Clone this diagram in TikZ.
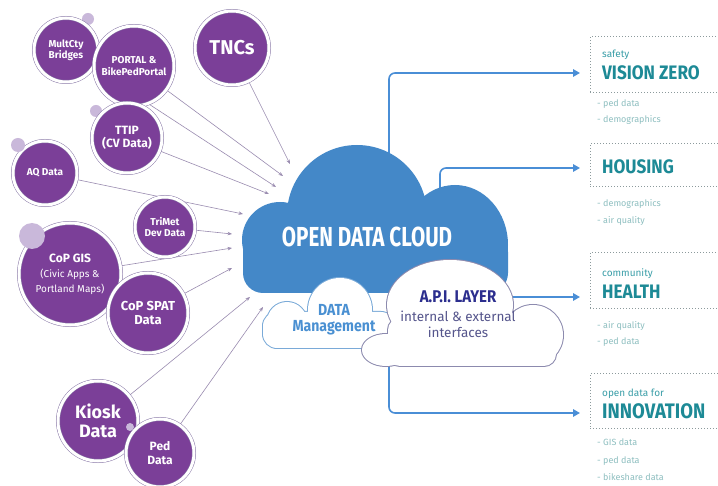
\documentclass[tikz,border=0pt]{standalone}
\usepackage{fontspec}
\setmainfont{Fira Sans}
\newfontfamily\cond[FakeStretch=0.75]{Fira Sans}
\newfontfamily\semicond[FakeStretch=0.88]{Fira Sans}
\usetikzlibrary{arrows.meta,backgrounds}
\definecolor{cpurple}{HTML}{7B3F98}
\definecolor{cring}{HTML}{8A7AA8}
\definecolor{cdot}{HTML}{C9B8DA}
\definecolor{carrow}{HTML}{9A8CB0}
\definecolor{cblue}{HTML}{4488C8}
\definecolor{cline}{HTML}{4A8ED6}
\definecolor{cteal}{HTML}{1D8A96}
\definecolor{cteal2}{HTML}{3A9EA8}
\definecolor{cbullet}{HTML}{8EBFC0}
\definecolor{cdots}{HTML}{8C9A9C}
\definecolor{capi}{HTML}{2C2E8E}
\definecolor{capitxt}{HTML}{55558C}
\definecolor{cdm}{HTML}{4A90D2}
\definecolor{cdmline}{HTML}{7AAAD8}
\definecolor{capiline}{HTML}{8C8AAE}
\begin{document}
\begin{tikzpicture}[x=1pt,y=-1pt,
  bubble/.style={circle, fill=cpurple, draw=cring, double=white, double distance=3pt,
    line width=0.5pt, text=white, align=center, inner sep=0pt},
  feed/.style={draw=carrow, line width=0.6pt, -{Stealth[length=4.5pt,width=3.5pt]}},
  connector/.style={draw=cline, line width=1.6pt, rounded corners=6pt,
    -{Triangle[length=7pt,width=7.5pt]}},
  ibox/.style={draw=cdots, line width=0.9pt, dash pattern=on 0.9pt off 2.1pt,
    anchor=north west, minimum width=150pt, inner sep=0pt},
  head/.style={anchor=base west, text=cteal, inner sep=0pt,
    font=\semicond\bfseries\fontsize{19.5}{20}\selectfont},
  sublabel/.style={anchor=base west, text=cteal2, inner sep=0pt,
    font=\fontsize{10}{12}\selectfont},
  bullet/.style={anchor=base west, text=cbullet, inner sep=0pt,
    font=\fontsize{9}{11}\selectfont},
  dotc/.style={fill=cdot}
]
\useasboundingbox (0,0) rectangle (718,486);
\begin{scope}[on background layer]
  \fill[white] (0,0) rectangle (718,486);
\end{scope}

% ---------- purple source circles ----------
\fill[dotc] (88,19) circle[radius=6];
\node[bubble, minimum size=64pt, font=\bfseries\fontsize{10}{11}\selectfont] (mult) at (66,50) {MultCty\\Bridges};
\node[bubble, minimum size=80pt, font=\bfseries\fontsize{10}{12.5}\selectfont] (portal) at (134,66) {PORTAL \&\\BikePedPortal};
\node[bubble, minimum size=74pt, font=\bfseries\fontsize{20}{22}\selectfont] (tnc) at (232,48) {TNCs};
\fill[dotc] (96,111) circle[radius=6];
\node[bubble, minimum size=70pt, font=\bfseries\fontsize{12}{13}\selectfont] (ttip) at (127,138) {TTIP\\(CV Data)};
\node[bubble, minimum size=64pt, font=\bfseries\fontsize{10}{11}\selectfont] (aq) at (45,173) {AQ Data};
\fill[dotc] (18,145) circle[radius=7];
\node[bubble, minimum size=60pt, font=\bfseries\fontsize{10}{11}\selectfont] (trimet) at (165,227) {TriMet\\Dev Data};
\node[bubble, minimum size=102pt, font=\bfseries\fontsize{12}{15}\selectfont] (gis) at (70,274)
  {CoP GIS\\{\mdseries\fontsize{10}{12}\selectfont(Civic Apps \&}\\{\mdseries\fontsize{10}{12}\selectfont Portland Maps)}};
\fill[dotc] (32,236) circle[radius=13];
\node[bubble, minimum size=80pt, font=\bfseries\fontsize{13}{14}\selectfont] (spat) at (148,313) {CoP SPAT\\Data};
\node[bubble, minimum size=80pt, font=\bfseries\fontsize{18}{19}\selectfont] (kiosk) at (98,421) {Kiosk\\Data};
\fill[dotc] (130,427) circle[radius=4];
\node[bubble, minimum size=68pt, font=\bfseries\fontsize{12}{14}\selectfont] (ped) at (160,453) {Ped\\Data};

% arrow tips at the cloud
\coordinate (t1) at (290,164);
\coordinate (t2) at (283,176);
\coordinate (t3) at (276,187);
\coordinate (t4) at (269,194);
\coordinate (t5) at (243,214);
\coordinate (t6) at (232,234);
\coordinate (t7) at (232,248);
\coordinate (t8) at (232,268);
\coordinate (t9) at (250,297);
\coordinate (t10) at (263,307);
\begin{scope}[on background layer]
  \draw[feed] (tnc.center) -- (t1);
  \draw[feed] (portal.center) -- (t2);
  \draw[feed] (mult.center) -- (t3);
  \draw[feed] (ttip.center) -- (t4);
  \draw[feed] (aq.center) -- (t5);
  \draw[feed] (trimet.center) -- (t6);
  \draw[feed] (gis.center) -- (t7);
  \draw[feed] (spat.center) -- (t8);
  \draw[feed] (kiosk.center) -- (t9);
  \draw[feed] (ped.center) -- (t10);
\end{scope}

% ---------- right-hand boxes ----------
\node[ibox, minimum height=56pt] (b1) at (590,36) {};
\node[ibox, minimum height=43pt] (b2) at (590,143) {};
\node[ibox, minimum height=56pt] (b3) at (590,252) {};
\node[ibox, minimum height=55pt] (b4) at (590,373) {};

\node[sublabel] (l1) at (602,58) {safety};
\node[head] (h1) at (602,79.5) {VISION ZERO};
\node[bullet] (p11) at (597,107) {- ped data};
\node[bullet] (p12) at (597,123) {- demographics};

\node[head] (h2) at (602,173.5) {HOUSING};
\node[bullet] (p21) at (597,207) {- demographics};
\node[bullet] (p22) at (597,224) {- air quality};

\node[sublabel] (l3) at (602,277) {community};
\node[head] (h3) at (602,298.5) {HEALTH};
\node[bullet] (p31) at (597,329) {- air quality};
\node[bullet] (p32) at (597,345) {- ped data};

\node[sublabel] (l4) at (602,397) {open data for};
\node[head, font=\semicond\bfseries\fontsize{21}{22}\selectfont] (h4) at (602,419) {INNOVATION};
\node[bullet] (p41) at (597,446) {- GIS data};
\node[bullet] (p42) at (597,463) {- ped data};
\node[bullet] (p43) at (597,480) {- bikeshare data};

% ---------- blue output connectors ----------
\coordinate (s1) at (389,170);
\coordinate (s2) at (440,200);
\coordinate (s3) at (505,297);
\coordinate (s4) at (389,355);
\coordinate (a1) at (580,73);
\coordinate (a2) at (580,168);
\coordinate (a3) at (580,297);
\coordinate (a4) at (580,413);
\draw[connector] (s1) |- (a1);
\draw[connector] (s2) |- (a2);
\draw[connector] (s3) -- (a3);
\draw[connector] (s4) |- (a4);

% ---------- clouds ----------
\fill[cblue] (357,215) circle[radius=70]
             (280,240) circle[radius=38]
             (455,245) ellipse[x radius=53, y radius=60];
\fill[cblue, rounded corners=20pt] (243,232) rectangle (508,293);

% data management cloud
\draw[cdmline, line width=2pt] (340,310) circle[radius=32] (287,322) circle[radius=20];
\draw[cdmline, line width=2pt, rounded corners=14pt] (263,312) rectangle (395,348);
\fill[white] (340,310) circle[radius=32] (287,322) circle[radius=20];
\fill[white, rounded corners=14pt] (263,312) rectangle (395,348);

% API cloud
\draw[capiline, line width=2pt] (450,305) ellipse[x radius=63, y radius=45]
   (533,335) circle[radius=30] (386,350) ellipse[x radius=24, y radius=16];
\draw[capiline, line width=2pt, rounded corners=12pt] (388,318) rectangle (556,366);
\fill[white] (450,305) ellipse[x radius=63, y radius=45]
   (533,335) circle[radius=30] (386,350) ellipse[x radius=24, y radius=16];
\fill[white, rounded corners=12pt] (388,318) rectangle (556,366);

\node[text=white, font=\cond\bfseries\fontsize{27.5}{30}\selectfont, inner sep=0pt] (odc) at (367,237) {OPEN DATA CLOUD};
\node[text=cdm, align=center, font=\semicond\bfseries\fontsize{16}{16}\selectfont, inner sep=0pt] (dm) at (334,320) {DATA\\Management};
\node[text=capi, font=\semicond\bfseries\fontsize{17}{18}\selectfont, inner sep=0pt] (api) at (458,297) {A.P.I. LAYER};
\node[text=capitxt, align=center, font=\fontsize{13.5}{16}\selectfont, inner sep=0pt] (apit) at (458,324) {internal \& external\\interfaces};
\end{tikzpicture}
\end{document}
